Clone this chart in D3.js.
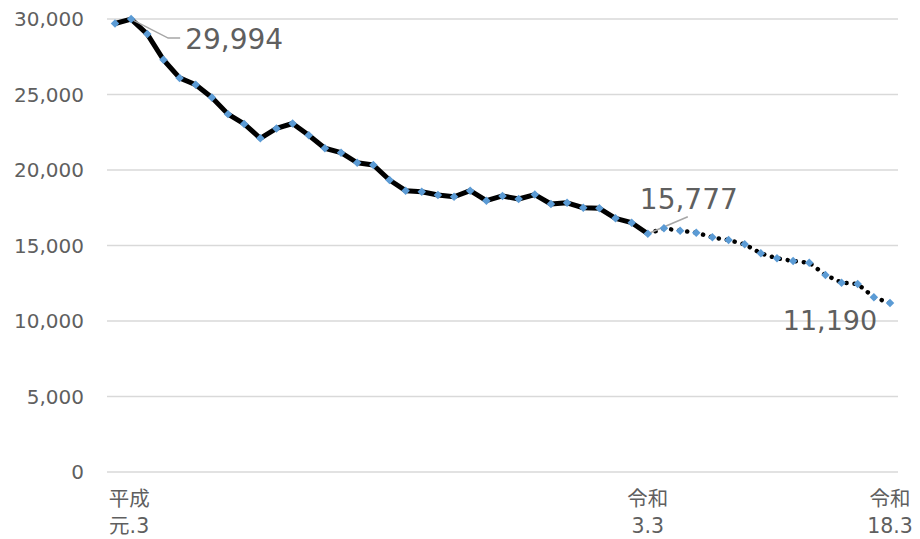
<!DOCTYPE html>
<html><head><meta charset="utf-8">
<script src="https://cdn.jsdelivr.net/npm/d3@7"></script>
<style>body{margin:0;background:#fff;}svg{display:block;}</style>
</head><body>
<script>
// index 0 = 昭和63.3, index 1 = 平成元.3, index 33 = 令和3.3, index 48 = 令和18.3
const actualValues = [29700, 29994, 29000, 27300, 26100, 25650, 24800, 23700, 23050, 22100,
  22750, 23080, 22300, 21440, 21150, 20480, 20330, 19340, 18630, 18560,
  18340, 18230, 18630, 17970, 18280, 18080, 18370, 17750, 17830, 17500,
  17460, 16800, 16510, 15777];
const projectedValues = [15777, 16140, 15980, 15850, 15540, 15360, 15080, 14480, 14150, 13970,
  13860, 13050, 12540, 12450, 11570, 11190];
const projectedStart = 33;
const yTicks = [0, 5000, 10000, 15000, 20000, 25000, 30000];
const xLabels = [
  {i: 1, lines: ["平成", "元.3"]},
  {i: 33, lines: ["令和", "3.3"]},
  {i: 48, lines: ["令和", "18.3"]}
];
const dataLabels = [
  {i: 1, v: 29994, text: "29,994"},
  {i: 33, v: 15777, text: "15,777"},
  {i: 48, v: 11190, text: "11,190"}
];

const W = 920, H = 539;
const svg = d3.select("body").append("svg").attr("width", W).attr("height", H);
const x = d3.scaleLinear().domain([0, 48]).range([115, 890]);
const y = d3.scaleLinear().domain([0, 30000]).range([472, 19]);
const font = "'DejaVu Sans', 'Noto Sans CJK JP', sans-serif";
const txt = "#5f5f5f";

// gridlines
svg.append("g").selectAll("line").data(yTicks).join("line")
  .attr("x1", 107).attr("x2", 898)
  .attr("y1", d => y(d)).attr("y2", d => y(d))
  .attr("stroke", "#d9d9d9").attr("stroke-width", 1.3);

// y tick labels
svg.append("g").selectAll("text").data(yTicks).join("text")
  .attr("x", 84).attr("y", d => y(d) + 7)
  .attr("text-anchor", "end").attr("font-family", font).attr("font-size", 20)
  .attr("fill", txt).text(d => d3.format(",")(d));

// x labels
const xl = svg.append("g").selectAll("text").data(xLabels).join("text")
  .attr("font-family", font).attr("font-size", 20.5).attr("fill", txt)
  .attr("text-anchor", "middle");
xl.each(function(d) {
  const t = d3.select(this);
  d.lines.forEach((ln, k) => {
    t.append("tspan").attr("x", x(d.i) - (d.i === 1 ? 2 : 0)).attr("y", 506 + k * 27).text(ln);
  });
});

const actual = actualValues.map((v, i) => ({i, v}));
const projected = projectedValues.map((v, k) => ({i: projectedStart + k, v}));
const line = d3.line().x(d => x(d.i)).y(d => y(d.v));

svg.append("path").datum(actual).attr("d", line)
  .attr("fill", "none").attr("stroke", "#000").attr("stroke-width", 5)
  .attr("stroke-linejoin", "round");
svg.append("path").datum(projected).attr("d", line)
  .attr("fill", "none").attr("stroke", "#000").attr("stroke-width", 4.5)
  .attr("stroke-linecap", "round").attr("stroke-dasharray", "0.1 8");

// leader lines
const lead = svg.append("g").attr("fill", "none").attr("stroke", "#a6a6a6").attr("stroke-width", 1.5);
lead.append("path").attr("d", `M${x(1)},${y(29994)} L${x(1) + 37},${y(29994) + 19} L${x(1) + 49},${y(29994) + 19}`);
lead.append("path").attr("d", `M${x(33)},${y(15777)} L${x(33) + 40},${y(15777) - 17}`);

// markers
const diamond = d3.symbol().type(d3.symbolSquare).size(36);
svg.append("g").selectAll("path").data(actual.concat(projected.slice(1))).join("path")
  .attr("d", diamond)
  .attr("transform", d => `translate(${x(d.i)},${y(d.v)}) rotate(45)`)
  .attr("fill", "#5b9bd5");

// data labels (offsets from the point to the label baseline)
const offs = {1: [54, 30, "start"], 33: [-8, -25, "start"], 48: [-60, 27, "middle"]};
svg.append("g").selectAll("text").data(dataLabels).join("text")
  .attr("x", d => x(d.i) + offs[d.i][0])
  .attr("y", d => y(d.v) + offs[d.i][1])
  .attr("text-anchor", d => offs[d.i][2])
  .attr("font-family", font).attr("font-size", d => d.i === 48 ? 27 : 28)
  .attr("fill", txt).text(d => d.text);
</script>
</body></html>
